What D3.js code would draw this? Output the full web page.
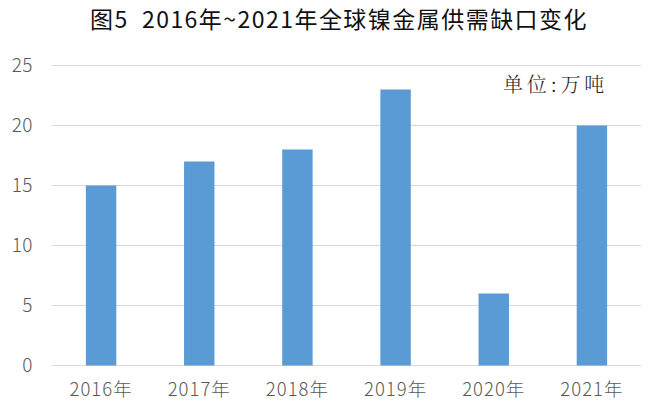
<!DOCTYPE html>
<html><head><meta charset="utf-8">
<script src="https://cdn.jsdelivr.net/npm/d3@7"></script>
<style>
html,body{margin:0;padding:0;background:#fff;}
svg{display:block;}
</style></head>
<body>
<svg id="chart" width="660" height="412"></svg>
<script>
const categories = ["2016年","2017年","2018年","2019年","2020年","2021年"];
const values = [15, 17, 18, 23, 6, 20];
const yTicks = [0, 5, 10, 15, 20, 25];
const titleText = "图5  2016年~2021年全球镍金属供需缺口变化";
const unitText = "单位:万吨";

const svg = d3.select("#chart");
const x = d3.scaleBand().domain(categories).range([52, 641]).padding(0);
const y = d3.scaleLinear().domain([0, 25]).range([365.5, 65.5]);
const barW = x.bandwidth() * 0.31;

function fitSpacing(sel, target) {
  const n = sel.text().length;
  const w = sel.node().getComputedTextLength();
  sel.attr("letter-spacing", Math.max(0, (target - w) / n));
}

// gridlines
svg.append("g").selectAll("line").data(yTicks).join("line")
  .attr("x1", 52).attr("x2", 641)
  .attr("y1", d => y(d)).attr("y2", d => y(d))
  .attr("stroke", "#d9d9d9").attr("stroke-width", 1);

// y axis labels
const yAxis = d3.axisLeft(y).tickValues(yTicks).tickSize(0).tickPadding(0);
const gy = svg.append("g").attr("transform", "translate(33,0)").call(yAxis);
gy.select(".domain").remove();
gy.selectAll("text").attr("font-family", "'Noto Sans CJK SC', sans-serif")
  .attr("font-weight", 300).attr("font-size", 19).attr("fill", "#595959")
  .attr("letter-spacing", 0.5);

// x axis labels
const xAxis = d3.axisBottom(x).tickSize(0).tickPadding(0);
const gx = svg.append("g").attr("transform", "translate(0,383)").call(xAxis);
gx.select(".domain").remove();
gx.selectAll("text").attr("font-family", "'Noto Sans CJK SC', sans-serif")
  .attr("font-weight", 300).attr("font-size", 18.5).attr("fill", "#595959")
  .attr("letter-spacing", 1);

// bars
svg.append("g").selectAll("rect").data(values).join("rect")
  .attr("x", (d, i) => x(categories[i]) + x.bandwidth() / 2 - barW / 2)
  .attr("width", barW)
  .attr("y", d => y(d))
  .attr("height", d => y(0) - y(d))
  .attr("fill", "#5b9bd5");

// title
const t = svg.append("text").attr("x", 90).attr("y", 28)
  .attr("font-family", "'Noto Sans CJK SC', sans-serif")
  .attr("font-weight", 400).attr("font-size", 23).attr("fill", "#111")
  .attr("xml:space", "preserve").style("white-space", "pre")
  .text(titleText);
fitSpacing(t, 498);

// unit label
const u = svg.append("text").attr("x", 503).attr("y", 92)
  .attr("font-family", "'Noto Serif CJK SC', 'Noto Sans CJK SC', serif")
  .attr("font-weight", 300).attr("font-size", 20).attr("fill", "#222")
  .text(unitText);
fitSpacing(u, 105);
</script>
</body></html>
